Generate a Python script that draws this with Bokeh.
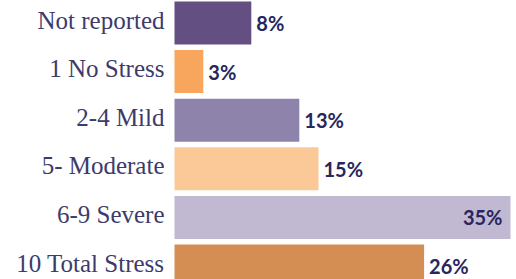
from bokeh.plotting import figure
from bokeh.models import ColumnDataSource, Range1d
from bokeh.core.properties import value
from bokeh.embed import file_html
from bokeh.resources import INLINE

categories = ["Not reported", "1 No Stress", "2-4 Mild", "5- Moderate", "6-9 Severe", "10 Total Stress"]
values = [8, 3, 13, 15, 35, 26]
value_labels = ["8%", "3%", "13%", "15%", "35%", "26%"]
colors = ["#634f82", "#f8a55d", "#8e84ab", "#fbc898", "#c1b8d2", "#d48d52"]

rows = list(range(len(categories)))
inside = [v >= 30 for v in values]

W, H = 516, 279
px_per_unit = 9.6
x0_px = 174
x_start = -x0_px / px_per_unit
x_end = (W - x0_px) / px_per_unit
pitch = 48.6
c0 = 22.5
y_top = -c0 / pitch
y_bot = (H - c0) / pitch

src = ColumnDataSource(dict(y=rows, v=values, cat=categories, color=colors))

out_src = ColumnDataSource(dict(
    y=[r for r, i in zip(rows, inside) if not i],
    v=[v for v, i in zip(values, inside) if not i],
    lab=[l for l, i in zip(value_labels, inside) if not i],
))
in_src = ColumnDataSource(dict(
    y=[r for r, i in zip(rows, inside) if i],
    v=[v for v, i in zip(values, inside) if i],
    lab=[l for l, i in zip(value_labels, inside) if i],
))

p = figure(width=W, height=H, output_backend="svg", toolbar_location=None,
           x_range=Range1d(x_start, x_end), y_range=Range1d(y_bot, y_top),
           min_border=0, min_border_left=0, min_border_right=0,
           min_border_top=0, min_border_bottom=0)
p.margin = (0, 0, 0, 0)
p.axis.visible = False
p.grid.visible = False
p.outline_line_color = None
p.background_fill_color = "white"
p.border_fill_color = "white"

p.hbar(y="y", left=0, right="v", height=0.885, color="color", line_color=None, source=src)

p.text(x=0, y="y", text="cat", source=src, x_offset=-10, y_offset=-3,
       text_align="right", text_baseline="middle",
       text_font=value("Liberation Serif"), text_font_size="25px",
       text_color="#3d3b6b")

p.text(x="v", y="y", text="lab", source=out_src, x_offset=5, y_offset=0,
       text_align="left", text_baseline="middle",
       text_font=value("Lato"), text_font_style="bold", text_font_size="20px",
       text_color="#27265e")
p.text(x="v", y="y", text="lab", source=in_src, x_offset=-8, y_offset=0,
       text_align="right", text_baseline="middle",
       text_font=value("Lato"), text_font_style="bold", text_font_size="20px",
       text_color="#27265e")

open("out.html", "w").write(file_html(p, INLINE))
